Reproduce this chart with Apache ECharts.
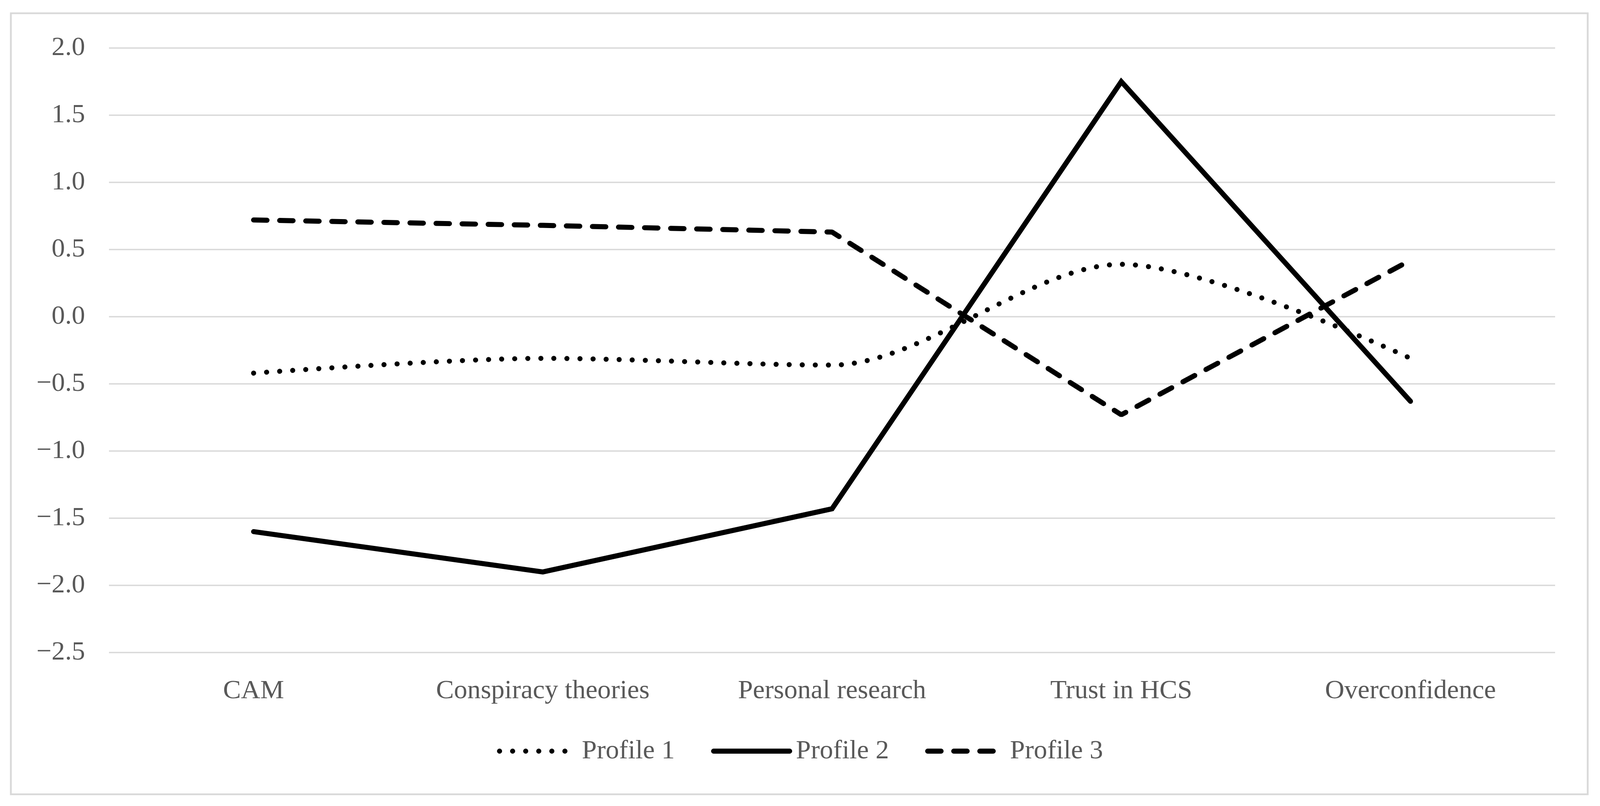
<!DOCTYPE html>
<html>
<head>
<meta charset="utf-8">
<script src="https://cdn.jsdelivr.net/npm/echarts@6/dist/echarts.min.js"></script>
<style>
html,body{margin:0;padding:0;background:#fff;overflow:hidden;}
#chart{width:100vw;height:100vh;}
</style>
</head>
<body>
<div id="chart"></div>
<script>
const categories = ["CAM", "Conspiracy theories", "Personal research", "Trust in HCS", "Overconfidence"];
const profile1 = [-0.42, -0.31, -0.36, 0.39, -0.31];
const profile2 = [-1.60, -1.90, -1.43, 1.75, -0.63];
const profile3 = [0.72, 0.68, 0.63, -0.73, 0.42];
const seriesNames = ["Profile 1", "Profile 2", "Profile 3"];

const FONT = "'Liberation Serif', 'Times New Roman', serif";
const TEXT = "#595959";
const el = document.getElementById('chart');
const W = el.clientWidth, H = el.clientHeight;
const sx = W / 4419, sy = H / 2064, s = Math.min(sx, sy);
const chart = echarts.init(el);
chart.setOption({
  backgroundColor: '#ffffff',
  animation: false,
  graphic: [{
    type: 'rect',
    shape: { x: 30 * sx, y: 34 * sy, width: 4355 * sx, height: 2000 * sy },
    style: { fill: 'none', stroke: '#d9d9d9', lineWidth: 5 * s },
    silent: true
  }],
  grid: { left: 301 * sx, right: 124 * sx, top: 123 * sy, bottom: 393 * sy, containLabel: false },
  legend: {
    data: seriesNames,
    left: 'center',
    top: 1884 * sy,
    itemWidth: 210 * s,
    itemHeight: 14 * s,
    itemGap: 100 * s,
    lineStyle: { width: 14 * s, cap: 'round' },
    itemStyle: { opacity: 0 },
    textStyle: { fontFamily: FONT, fontSize: 74 * s, color: TEXT, padding: [0, 0, 0, 12 * s] }
  },
  xAxis: {
    type: 'category',
    data: categories,
    boundaryGap: true,
    axisLine: { show: false },
    axisTick: { show: false },
    axisLabel: { fontFamily: FONT, fontSize: 74 * s, color: TEXT, margin: 64 * sy, interval: 0 }
  },
  yAxis: {
    type: 'value',
    min: -2.5, max: 2, interval: 0.5,
    axisLine: { show: false },
    axisTick: { show: false },
    splitLine: { lineStyle: { color: '#d9d9d9', width: 4 * s } },
    axisLabel: {
      fontFamily: FONT, fontSize: 74 * s, color: TEXT, margin: 66 * sx,
      formatter: v => v.toFixed(1).replace('-', '\u2212')
    }
  },
  series: [
    {
      name: seriesNames[0], type: 'line', data: profile1, symbol: 'none', smooth: 0.3,
      lineStyle: { color: '#000', width: 14 * s, type: [0.1, 36 * s], cap: 'round' },
      itemStyle: { color: '#000' }
    },
    {
      name: seriesNames[1], type: 'line', data: profile2, symbol: 'none',
      lineStyle: { color: '#000', width: 14 * s, type: 'solid', cap: 'round', join: 'miter' },
      itemStyle: { color: '#000' }
    },
    {
      name: seriesNames[2], type: 'line', data: profile3, symbol: 'none',
      lineStyle: { color: '#000', width: 14 * s, type: [37 * s, 35 * s], cap: 'round' },
      itemStyle: { color: '#000' }
    }
  ]
});
</script>
</body>
</html>
